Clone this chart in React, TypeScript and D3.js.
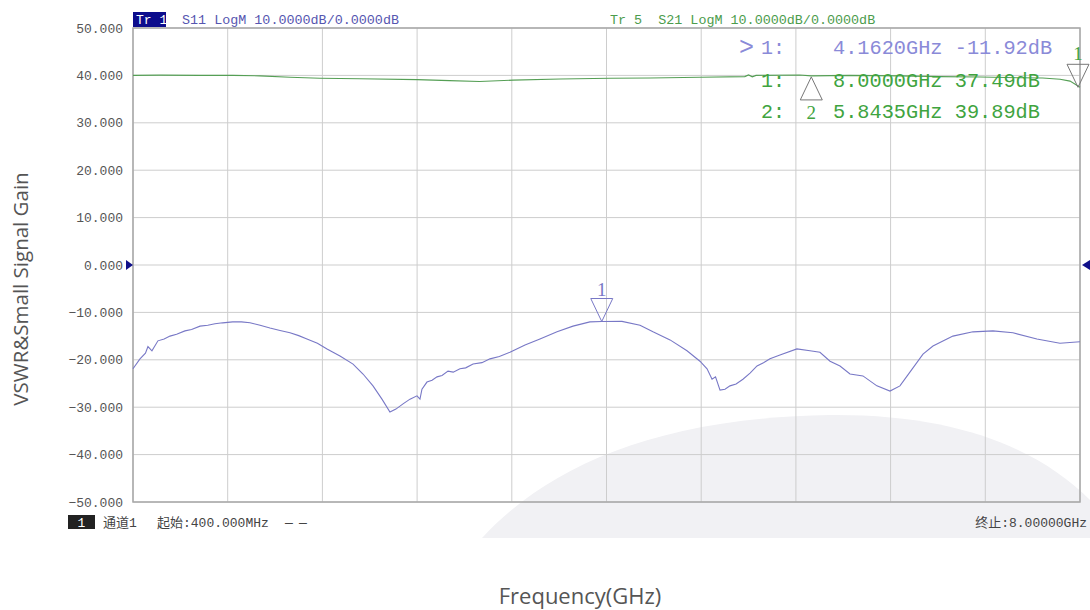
import React from "react";
import * as d3 from "d3";

// ---- data ----
const yTicks = [50, 40, 30, 20, 10, 0, -10, -20, -30, -40, -50];
const xGridFreqs = [0.4, 1.16, 1.92, 2.68, 3.44, 4.2, 4.96, 5.72, 6.48, 7.24, 8.0];

// S11 trace (GHz, dB)
const s11Freq = [
  0.4, 0.456, 0.5, 0.52, 0.552, 0.6, 0.65, 0.697, 0.75, 0.817, 0.87, 0.938, 1.0, 1.058, 1.12, 1.2, 1.27, 1.339,
  1.42, 1.499, 1.58, 1.66, 1.73, 1.796, 1.88, 1.957, 2.061, 2.166, 2.246, 2.326, 2.398, 2.462, 2.51, 2.567,
  2.623, 2.679, 2.703, 2.719, 2.759, 2.8, 2.84, 2.88, 2.928, 2.97, 3.024, 3.07, 3.129, 3.2, 3.265, 3.34,
  3.425, 3.546, 3.666, 3.803, 3.931, 4.067, 4.162, 4.324, 4.469, 4.573, 4.71, 4.846, 4.95, 5.007, 5.047,
  5.075, 5.111, 5.151, 5.191, 5.24, 5.295, 5.352, 5.408, 5.46, 5.512, 5.592, 5.728, 5.833, 5.913, 5.994,
  6.074, 6.154, 6.258, 6.37, 6.475, 6.555, 6.635, 6.74, 6.82, 6.98, 7.141, 7.301, 7.462, 7.654, 7.839, 8.0,
];
const s11dB = [
  -21.9, -19.8, -18.6, -17.2, -18.1, -16.0, -15.6, -15.0, -14.6, -13.9, -13.6, -12.9, -12.7, -12.4, -12.2, -12.0, -12.0, -12.2,
  -12.7, -13.3, -13.8, -14.3, -14.9, -15.6, -16.5, -17.7, -19.2, -20.9, -23.0, -25.5, -28.3, -31.0, -30.4, -29.3,
  -28.3, -27.6, -28.3, -26.2, -24.7, -24.3, -23.6, -23.3, -22.4, -22.6, -21.9, -21.7, -20.9, -20.6, -19.8, -19.3,
  -18.4, -16.9, -15.6, -14.1, -12.9, -12.0, -11.92, -11.9, -12.7, -14.1, -15.8, -18.1, -20.3, -21.9, -24.1,
  -23.6, -26.4, -26.2, -25.5, -25.1, -24.1, -22.8, -21.3, -20.6, -19.8, -19.0, -17.7, -18.1, -18.4, -20.3,
  -21.3, -23.0, -23.4, -25.5, -26.6, -25.5, -22.6, -18.8, -17.1, -15.0, -14.1, -13.9, -14.3, -15.6, -16.5, -16.2,
];

// S21 trace (GHz, dB)
const s21Freq = [
  0.4, 0.617, 0.938, 1.2, 1.419, 1.66, 1.9, 2.22, 2.68, 2.94, 3.18, 3.45, 3.83, 4.23, 4.55, 4.95, 5.31, 5.34,
  5.37, 5.4, 5.75, 5.8435, 6.15, 6.555, 6.876, 7.2, 7.52, 7.7, 7.84, 7.92, 8.0,
];
const s21dB = [
  40.0, 40.05, 40.0, 40.0, 39.9, 39.6, 39.4, 39.3, 39.1, 38.9, 38.7, 39.0, 39.25, 39.4, 39.45, 39.6, 39.75, 40.1,
  39.7, 40.0, 40.1, 39.89, 40.0, 39.9, 39.75, 39.66, 39.5, 39.45, 39.2, 38.8, 37.49,
];

// markers
const s11Marker = { freq: 4.162, dB: -11.92, label: "1" };
const s21Markers = [
  { freq: 8.0, dB: 37.49, label: "1", dir: "down" },
  { freq: 5.8435, dB: 39.89, label: "2", dir: "up" },
];
const readoutS11 = ["4.1620GHz -11.92dB"];
const readoutS21 = ["8.0000GHz 37.49dB", "5.8435GHz 39.89dB"];

const MONO = "'Liberation Mono', 'Noto Sans CJK SC', monospace";
const PURPLE = "#7878c6";
const PURPLE_TXT = "#8a8ad8";
const GREEN = "#559f55";
const GREEN_TXT = "#3fa43f";

export default function App() {
  const left = 133, right = 1080, top = 28, bottom = 502;
  const x = d3.scaleLinear().domain([0.4, 8]).range([left, right]);
  const y = d3.scaleLinear().domain([-50, 50]).range([bottom, top]);

  const line = d3
    .line<[number, number]>()
    .x((d) => x(d[0]))
    .y((d) => y(d[1]));
  const s11Path = line(s11Freq.map((f, i) => [f, s11dB[i]] as [number, number])) || "";
  const s21Path = line(s21Freq.map((f, i) => [f, s21dB[i]] as [number, number])) || "";

  const tri = (cx: number, tipY: number, dir: string, w = 11, h = 23) =>
    dir === "down"
      ? `M${cx},${tipY} L${cx - w},${tipY - h} L${cx + w},${tipY - h} Z`
      : `M${cx},${tipY} L${cx - w},${tipY + h} L${cx + w},${tipY + h} Z`;

  return (
    <svg width={1090} height={610} style={{ position: "absolute", left: 0, top: 0, background: "#fff" }}>
      <rect x={0} y={0} width={1090} height={610} fill="#fff" />
      {/* watermark */}
      <path d="M482,538 C545,470 650,418 830,415 C960,414 1040,450 1090,500 L1090,538 Z" fill="#f1f1f4" />

      {/* grid */}
      {yTicks.map((t) => (
        <line key={"h" + t} x1={left} x2={right} y1={y(t)} y2={y(t)} stroke="#cdcdcd" strokeWidth={1} />
      ))}
      {xGridFreqs.map((f) => (
        <line key={"v" + f} x1={x(f)} x2={x(f)} y1={top} y2={bottom} stroke="#cdcdcd" strokeWidth={1} />
      ))}
      <rect x={left} y={top} width={right - left} height={bottom - top} fill="none" stroke="#a8a8a8" strokeWidth={1.5} />

      {/* y tick labels */}
      {yTicks.map((t) => (
        <text key={"l" + t} x={123} y={y(t) + 4.5} textAnchor="end" fontFamily={MONO} fontSize={13} fill="#555">
          {d3.format(".3f")(t)}
        </text>
      ))}

      {/* reference arrows at 0 dB */}
      <path d={`M${left - 7},${y(0) - 5} L${left},${y(0)} L${left - 7},${y(0) + 5} Z`} fill="#10108a" />
      <path d={`M1090,${y(0) - 5} L1082,${y(0)} L1090,${y(0) + 5} Z`} fill="#10108a" />

      {/* traces */}
      <path d={s21Path} fill="none" stroke={GREEN} strokeWidth={1.1} />
      <path d={s11Path} fill="none" stroke={PURPLE} strokeWidth={1.1} />

      {/* S11 marker */}
      <path d={tri(x(s11Marker.freq), y(s11Marker.dB), "down")} fill="none" stroke={PURPLE} strokeWidth={1} />
      <text x={x(s11Marker.freq)} y={y(s11Marker.dB) - 26} textAnchor="middle" fontFamily="'Liberation Serif', serif" fontSize={19} fill={PURPLE}>
        {s11Marker.label}
      </text>

      {/* S21 markers */}
      {s21Markers.map((m) => {
        const cx = x(m.freq) - (m.dir === "down" ? 2 : 0);
        const ty = y(m.dB);
        return (
          <g key={m.label}>
            <path d={tri(cx, ty + (m.dir === "up" ? 1 : 0), m.dir)} fill="none" stroke="#777" strokeWidth={1} />
            <text
              x={cx}
              y={m.dir === "down" ? ty - 27 : ty + 43}
              textAnchor="middle"
              fontFamily="'Liberation Serif', serif"
              fontSize={19}
              fill={GREEN_TXT}
            >
              {m.label}
            </text>
          </g>
        );
      })}

      {/* header */}
      <rect x={133} y={12} width={33} height={15} fill="#0c0c8c" />
      <text x={136} y={24} fontFamily={MONO} fontSize={13} fill="#fff">Tr 1</text>
      <text x={182} y={24} fontFamily={MONO} fontSize={13.4} fill="#5656b0">S11 LogM 10.0000dB/0.0000dB</text>
      <text x={610} y={24} fontFamily={MONO} fontSize={13.4} fill="#4c9c4c" style={{ whiteSpace: "pre" }}>
        {"Tr 5  S21 LogM 10.0000dB/0.0000dB"}
      </text>

      {/* marker readouts */}
      <text x={739} y={55} fontFamily={MONO} fontSize={25} fill={PURPLE_TXT}>&gt;</text>
      <text x={785} y={54} textAnchor="end" fontFamily={MONO} fontSize={20} fill={PURPLE_TXT}>1:</text>
      <text x={833} y={54} fontFamily={MONO} fontSize={20.3} fill={PURPLE_TXT} style={{ whiteSpace: "pre" }}>
        {readoutS11[0]}
      </text>
      <text x={785} y={87} textAnchor="end" fontFamily={MONO} fontSize={20} fill={GREEN_TXT}>1:</text>
      <text x={833} y={87} fontFamily={MONO} fontSize={20.3} fill={GREEN_TXT}>{readoutS21[0]}</text>
      <text x={785} y={118} textAnchor="end" fontFamily={MONO} fontSize={20} fill={GREEN_TXT}>2:</text>
      <text x={833} y={118} fontFamily={MONO} fontSize={20.3} fill={GREEN_TXT}>{readoutS21[1]}</text>

      {/* footer */}
      <rect x={68} y={515} width={27} height={14} fill="#222" />
      <text x={81.5} y={526.5} textAnchor="middle" fontFamily={MONO} fontSize={13} fill="#fff">1</text>
      <text x={103} y={527} fontFamily={MONO} fontSize={13} fill="#444">通道1</text>
      <text x={157} y={527} fontFamily={MONO} fontSize={13} fill="#444">起始:400.000MHz</text>
      <text x={285} y={527} fontFamily={MONO} fontSize={13} fill="#444">—</text>
      <text x={299} y={527} fontFamily={MONO} fontSize={13} fill="#444">—</text>
      <text x={1087} y={527} textAnchor="end" fontFamily={MONO} fontSize={13} fill="#444">终止:8.00000GHz</text>

      {/* axis titles */}
      <text
        transform="translate(28,289) rotate(-90)"
        textAnchor="middle"
        fontFamily="'Open Sans', sans-serif"
        fontSize={20.5}
        fill="#555"
      >
        VSWR&amp;Small Signal Gain
      </text>
      <text x={580} y={604} textAnchor="middle" fontFamily="'Open Sans', sans-serif" fontSize={22} fill="#555">
        Frequency(GHz)
      </text>
    </svg>
  );
}
